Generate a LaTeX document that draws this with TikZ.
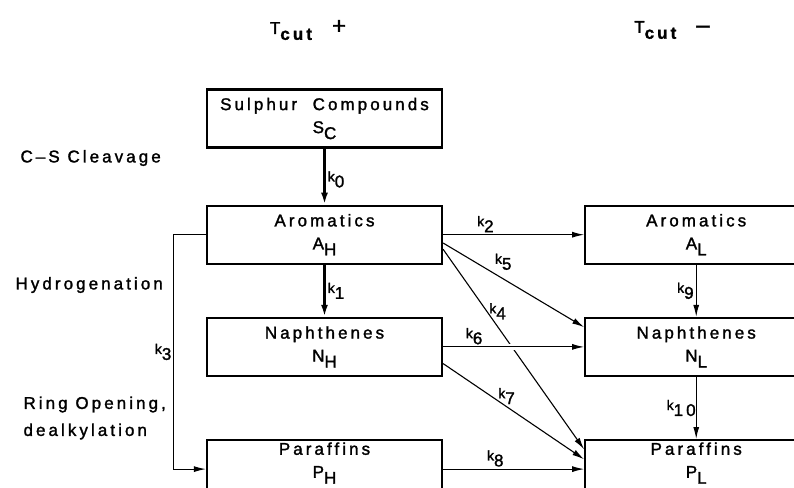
\documentclass[tikz,border=0pt]{standalone}
\usepackage{fontspec}
\setmainfont[LetterSpace=18, FakeBold=1.6]{Liberation Sans}
\usetikzlibrary{arrows.meta,positioning}

\newcommand{\lo}[1]{\raisebox{-0.35em}{#1}}
\newcommand{\rate}[1]{{\fontsize{14}{14}\selectfont k}\lo{#1}}

\begin{document}
\begin{tikzpicture}[
    x=1pt, y=-1pt,
    font=\fontsize{17}{23}\selectfont,
    box/.style={draw, line width=2.2pt, align=center, minimum width=235pt, minimum height=58pt, inner sep=0pt},
    rbox/.style={box, minimum width=222pt},
    arrow/.style={-{Latex[length=12pt,width=6pt]}, line width=1.1pt},
    bigarrow/.style={-{Latex[length=12pt,width=7pt]}, line width=2.6pt},
    rate/.style={inner sep=2pt},
    side/.style={anchor=west, align=left}
]
\useasboundingbox (0,0) rectangle (794,487);
\clip (0,0) rectangle (794,487);

% temperature cut
\node (thot) at (308,30) {T\lo{\textbf{cut}}\quad{\fontsize{24}{24}\selectfont +}};
\node (tcold) at (672,30) {T\lo{\textbf{cut}}\quad{\fontsize{24}{24}\selectfont \textendash}};

% heavy side
\node[box] (sc) at (324.5,118.5) {Sulphur\ \ Compounds\\S\lo{C}};
\node[box, below=56pt of sc] (ah) {Aromatics\\A\lo{H}};
\node[box, below=52pt of ah] (nh) {Naphthenes\\N\lo{H}};
\node[box, below=62pt of nh, text depth=18pt] (ph) {Paraffins\\P\lo{H}};

% light side
\node[rbox, right=141pt of ah] (al) {Aromatics\\A\lo{L}};
\node[rbox, right=141pt of nh] (nl) {Naphthenes\\N\lo{L}};
\node[rbox, right=141pt of ph, text depth=18pt] (pl) {Paraffins\\P\lo{L}};

% reaction names
\node[side] (cs) at (17,158) {C--S Cleavage};
\node[side] (hyd) at (12,285) {Hydrogenation};
\node[side, font=\fontsize{17}{27}\selectfont] (ring) at (20,418) {Ring Opening,\\dealkylation};

\draw[bigarrow] (sc) -- (ah) node[rate, pos=0.55, right] {\rate{0}};
\draw[bigarrow] (ah) -- (nh) node[rate, pos=0.5, right] {\rate{1}};
\draw[arrow] (ah.east) -- (al.west) node[rate, pos=0.3, above] {\rate{2}};
\draw[arrow] (ah.west) -- ++(-32,0) |- (ph.west) node[rate, pos=0.25, left] {\rate{3}};
\draw[arrow] (ah.-7) -- (pl.170) node[rate, pos=0.31, right] {\rate{4}};
\draw[arrow] (ah.-4) -- (nl.170) node[rate, pos=0.35, above right] {\rate{5}};
\draw[arrow, preaction={draw, -, white, line width=6pt, shorten <=30pt, shorten >=30pt}] (nh.east) -- (nl.west) node[rate, pos=0.22, above] {\rate{6}};
\draw[arrow] (nh.-8) -- (pl.175) node[rate, pos=0.45, above] {\rate{7}};
\draw[arrow] (ph.east) -- (pl.west) node[rate, pos=0.37, above] {\rate{8}};
\draw[arrow] (al) -- (nl) node[rate, pos=0.5, left] {\rate{9}};
\draw[arrow] (nl) -- (pl) node[rate, pos=0.5, left, inner sep=0pt] {\rate{10}};
\end{tikzpicture}
\end{document}
